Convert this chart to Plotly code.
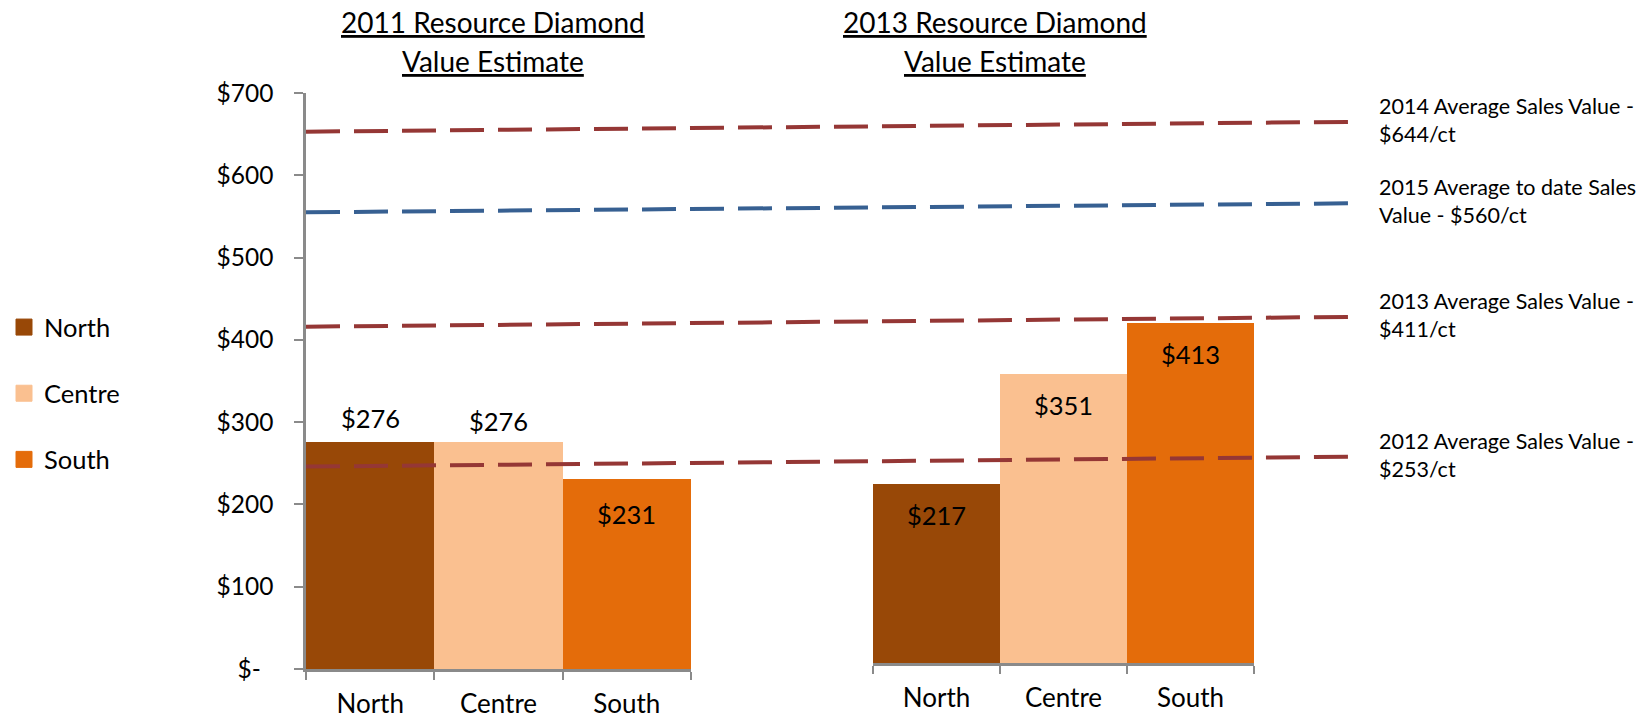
import plotly.graph_objects as go

# ---------------- data ----------------
categories = ["North", "Centre", "South"]
values_2011 = [276, 276, 231]
values_2013 = [217, 351, 413]
bar_colors = ["#984807", "#FAC090", "#E46C0A"]

y_tick_vals = [0, 100, 200, 300, 400, 500, 600, 700]
y_tick_text = ["$-\u00a0\u00a0", "$100", "$200", "$300", "$400", "$500", "$600", "$700"]

ref_labels = [
    "2014 Average Sales Value -<br>$644/ct",
    "2015 Average to date Sales<br>Value - $560/ct",
    "2013 Average Sales Value -<br>$411/ct",
    "2012 Average Sales Value -<br>$253/ct",
]
ref_start = [653, 555, 416, 246]   # value at left end of dashed line (as drawn)
ref_end = [665, 566, 428, 258]     # value at right end of dashed line (as drawn)
ref_colors = ["#953735", "#376092", "#953735", "#953735"]

# label placement style (not data)
shift_2011 = [24, 21, -35]
shift_2013 = [-31, -31, -31]

FONT = "Lato"
W, H = 1646, 719
AXIS_GRAY = "#8A8A8A"


def px_x(p):
    return p / W


def px_y(p):
    return 1 - p / H


fig = go.Figure()

fig.add_trace(go.Bar(x=categories, y=values_2011, marker=dict(color=bar_colors, line=dict(width=0)),
                     xaxis="x", yaxis="y", showlegend=False, hoverinfo="x+y"))
fig.add_trace(go.Bar(x=categories, y=values_2013, marker=dict(color=bar_colors, line=dict(width=0)),
                     xaxis="x2", yaxis="y2", showlegend=False, hoverinfo="x+y"))

for s, e, c in zip(ref_start, ref_end, ref_colors):
    fig.add_trace(go.Scatter(x=[0, 1], y=[s, e], mode="lines", xaxis="x3", yaxis="y",
                             line=dict(color=c, width=4, dash="34px,14px"),
                             showlegend=False, hoverinfo="skip"))

for cat, col in zip(categories, bar_colors):
    fig.add_trace(go.Scatter(x=[None], y=[None], mode="markers", name=cat,
                             legendgroup=cat,
                             marker=dict(symbol="square", size=16, color=col,
                                         line=dict(color=col, width=1))))

annotations = []
for vals, shifts, xa, ya in [(values_2011, shift_2011, "x", "y"), (values_2013, shift_2013, "x2", "y2")]:
    for cat, v, sh in zip(categories, vals, shifts):
        annotations.append(dict(x=cat, y=v, xref=xa, yref=ya, text=f"${v}", showarrow=False,
                                yshift=sh, font=dict(family=FONT, size=25.5, color="black")))

for lab, e in zip(ref_labels, ref_end):
    annotations.append(dict(x=1, y=e, xref="x3", yref="y", text=lab, showarrow=False,
                            xanchor="left", yanchor="middle", align="left", xshift=20, yshift=2,
                            font=dict(family=FONT, size=21.5, color="black")))

for cx, l1, l2 in [(492.5, "2011 Resource Diamond", "Value Estimate"),
                   (994.6, "2013 Resource Diamond", "Value Estimate")]:
    annotations.append(dict(x=px_x(cx), y=px_y(22), xref="paper", yref="paper", text=f"<u>{l1}</u>",
                            showarrow=False, xanchor="center", yanchor="middle",
                            font=dict(family=FONT, size=28, color="black")))
    annotations.append(dict(x=px_x(cx), y=px_y(61), xref="paper", yref="paper", text=f"<u>{l2}</u>",
                            showarrow=False, xanchor="center", yanchor="middle",
                            font=dict(family=FONT, size=28, color="black")))

x_common = dict(type="category", showline=True, linecolor=AXIS_GRAY, linewidth=2.5,
                ticks="outside", tickson="boundaries", ticklen=8, tickwidth=2, tickcolor=AXIS_GRAY,
                tickfont=dict(family=FONT, size=26, color="black"), ticklabelstandoff=10,
                showgrid=False, zeroline=False, fixedrange=True, automargin=False)

fig.update_layout(
    width=W, height=H, autosize=False,
    margin=dict(l=0, r=0, t=0, b=0, pad=0),
    paper_bgcolor="white", plot_bgcolor="rgba(0,0,0,0)",
    barmode="group", bargap=0,
    font=dict(family=FONT, color="black"),
    xaxis=dict(domain=[px_x(306), px_x(691)], anchor="y", **x_common),
    yaxis=dict(domain=[px_y(669), px_y(93)], range=[0, 700], anchor="x",
               showline=True, linecolor=AXIS_GRAY, linewidth=2.5,
               ticks="outside", ticklen=9, tickwidth=2, tickcolor=AXIS_GRAY,
               tickvals=y_tick_vals, ticktext=y_tick_text, ticklabelstandoff=16,
               tickfont=dict(family=FONT, size=24.5, color="black"),
               showgrid=False, zeroline=False, fixedrange=True, automargin=False),
    xaxis2=dict(domain=[px_x(873), px_x(1254)], anchor="y2", **x_common),
    yaxis2=dict(domain=[px_y(663), px_y(87)], range=[0, 700], anchor="x2", visible=False,
                fixedrange=True, automargin=False),
    xaxis3=dict(domain=[px_x(306), px_x(1357)], range=[0, 1], anchor="y", visible=False,
                fixedrange=True, automargin=False),
    legend=dict(x=px_x(4), y=px_y(304), xanchor="left", yanchor="top",
                font=dict(family=FONT, size=25.5, color="black"),
                tracegroupgap=30, bgcolor="rgba(0,0,0,0)"),
    annotations=annotations,
    showlegend=True,
)

fig.write_html("out.html", config={"displayModeBar": False},
               post_script="document.body.style.margin='0';document.body.style.overflow='hidden';")
